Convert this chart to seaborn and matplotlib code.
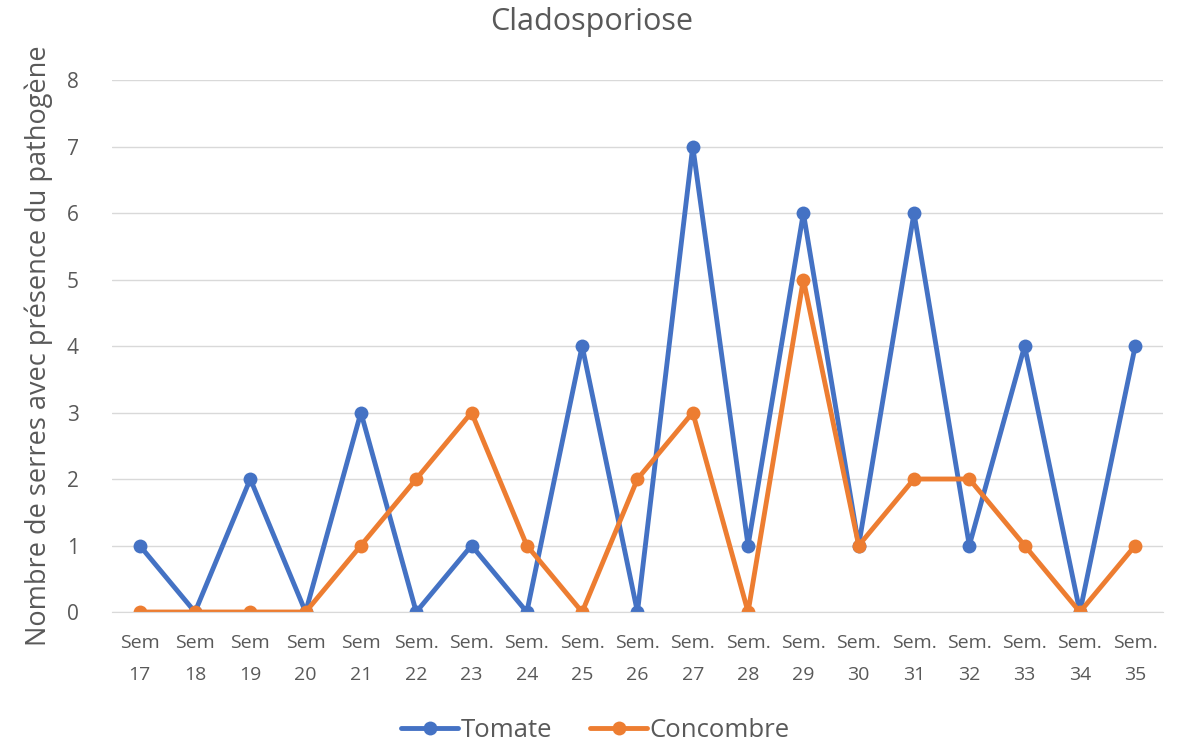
import pandas as pd
import matplotlib
matplotlib.use("Agg")
import matplotlib.pyplot as plt
import seaborn as sns

semaines = ["Sem\n17", "Sem\n18", "Sem\n19", "Sem\n20", "Sem\n21",
            "Sem.\n22", "Sem.\n23", "Sem.\n24", "Sem.\n25", "Sem.\n26",
            "Sem.\n27", "Sem.\n28", "Sem.\n29", "Sem.\n30", "Sem.\n31",
            "Sem.\n32", "Sem.\n33", "Sem.\n34", "Sem.\n35"]
tomate = [1, 0, 2, 0, 3, 0, 1, 0, 4, 0, 7, 1, 6, 1, 6, 1, 4, 0, 4]
concombre = [0, 0, 0, 0, 1, 2, 3, 1, 0, 2, 3, 0, 5, 1, 2, 2, 1, 0, 1]

df = pd.DataFrame({
    "x": list(range(len(semaines))) * 2,
    "valeur": tomate + concombre,
    "serie": ["Tomate"] * len(tomate) + ["Concombre"] * len(concombre),
})

sns.set_style("white")
plt.rcParams["font.family"] = ["Open Sans", "DejaVu Sans"]

fig = plt.figure(figsize=(11.83, 7.43), dpi=100)
ax = fig.add_axes([0.0947, 0.1763, 0.8883, 0.716])

sns.lineplot(data=df, x="x", y="valeur", hue="serie",
             palette={"Tomate": "#4472C4", "Concombre": "#ED7D31"},
             marker="o", markersize=10, markeredgewidth=0, linewidth=3.5,
             ax=ax)

ax.set_xlim(-0.5, len(semaines) - 0.5)
ax.set_ylim(0, 8)
ax.set_yticks(range(9))
ax.set_xticks(range(len(semaines)))
ax.set_xticklabels(semaines, fontsize=14, color="#595959", linespacing=1.95)
ax.tick_params(axis="y", labelsize=15, labelcolor="#595959", length=0, pad=24)
ax.tick_params(axis="x", length=0, pad=16)
ax.grid(axis="y", color="#D9D9D9", linewidth=1)
ax.set_axisbelow(True)
for s in ["top", "right", "left"]:
    ax.spines[s].set_visible(False)
ax.spines["bottom"].set_color("#D9D9D9")

ax.set_xlabel("")
ax.set_ylabel("Nombre de serres avec présence du pathogène", fontsize=19.5,
              color="#595959", labelpad=10)
fig.suptitle("Cladosporiose", fontsize=22, color="#595959", y=0.99)

ax.legend(loc="upper center", bbox_to_anchor=(0.46, -0.155), ncol=2,
          frameon=False, fontsize=18.5, labelcolor="#595959",
          handlelength=2.2, handletextpad=0.1, columnspacing=1.5)

fig.savefig("out.png", dpi=100)
